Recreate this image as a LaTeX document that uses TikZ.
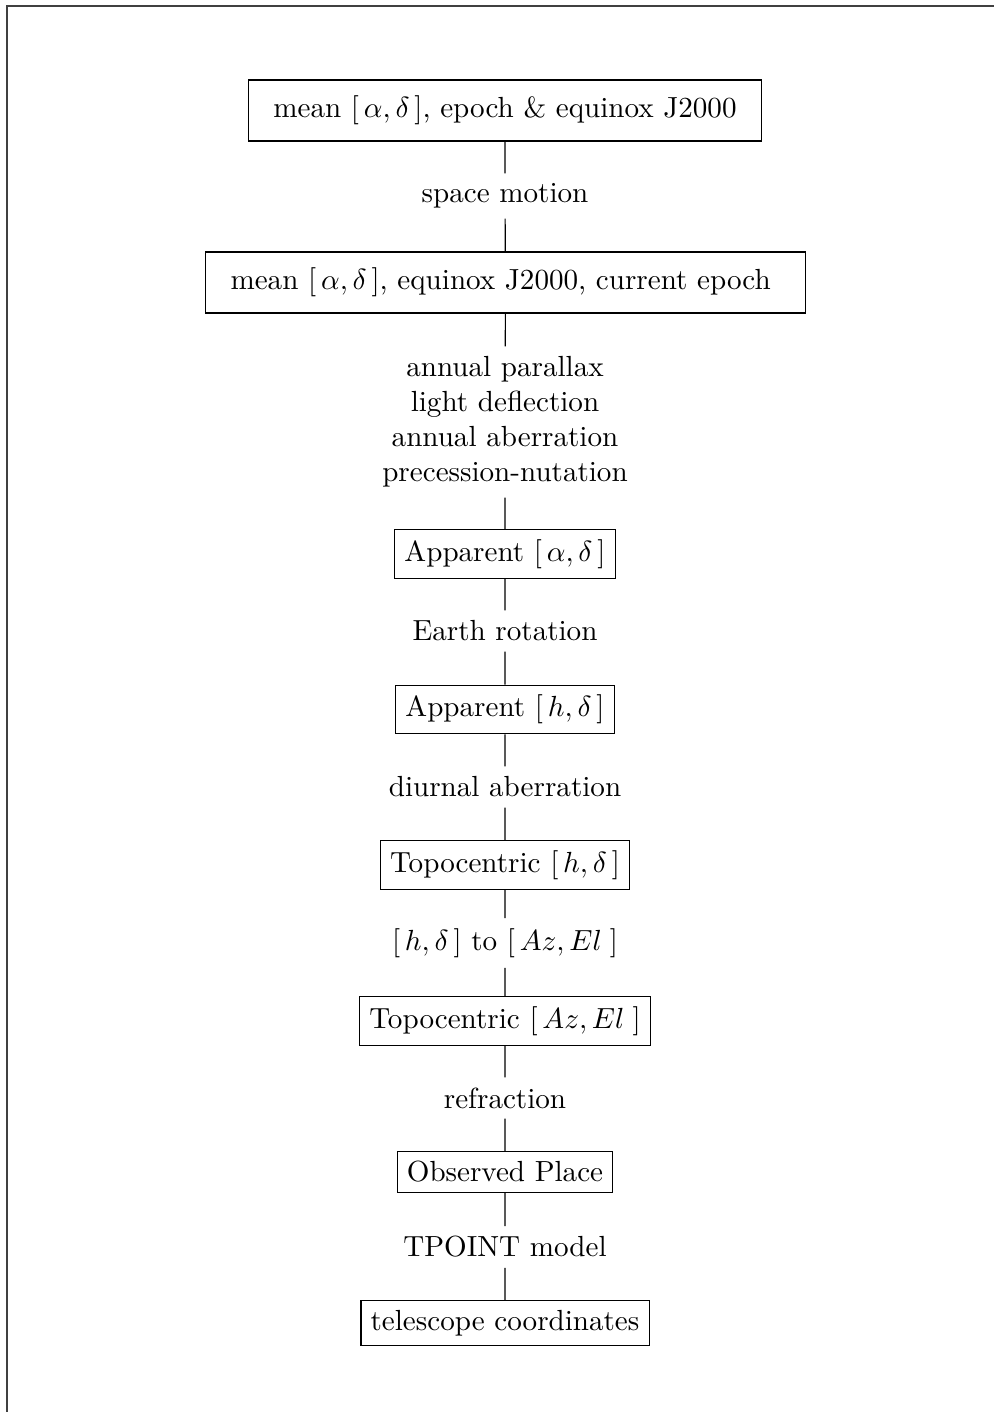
\documentclass[tikz,border=0pt]{standalone}
\begin{document}
\begin{tikzpicture}[x=0.3436pt,y=-0.3436pt,
  box/.style={draw,line width=0.4pt,inner sep=3.33pt},
  bigbox/.style={draw,line width=0.4pt,inner xsep=8.5pt,inner ysep=5.5pt},
  lbl/.style={inner sep=3.33pt,align=center},
  conn/.style={line width=0.4pt}]
\useasboundingbox (0,0) rectangle (994,1412);
\draw[line width=0.5pt,black!75] (994,6) -- (7,6) -- (7,1412);
\node[bigbox] (b1) at (505,110.5) {mean $[\,\alpha,\delta\,]$, epoch \& equinox J2000};
\node[lbl] (l1) at (505,196) {space motion};
\node[bigbox] (b2) at (505.5,282.5) {mean $[\,\alpha,\delta\,]$, equinox J2000, current epoch\kern3.33pt};
\node[lbl] (l2) at (505,422) {annual parallax\\light deflection\\annual aberration\\precession-nutation};
\node[box] (b3) at (505,554) {Apparent $[\,\alpha,\delta\,]$};
\node[lbl] (l3) at (505,631) {Earth rotation};
\node[box] (b4) at (505,709.5) {Apparent $[\,h,\delta\,]$};
\node[lbl] (l4) at (505,787) {diurnal aberration};
\node[box] (b5) at (505,865) {Topocentric $[\,h,\delta\,]$};
\node[lbl] (l5) at (505,943) {$[\,h,\delta\,]$ to $[\,Az,El\;]$};
\node[box] (b6) at (505,1021) {Topocentric $[\,Az,El\;]$};
\node[lbl] (l6) at (505,1098) {refraction};
\node[box] (b7) at (505,1172) {Observed Place};
\node[lbl] (l7) at (505,1247) {TPOINT model};
\node[box] (b8) at (505,1323) {telescope coordinates};
\draw[conn] (b1) -- (l1) -- (b2) -- (l2) -- (b3) -- (l3) -- (b4) -- (l4) -- (b5) -- (l5) -- (b6) -- (l6) -- (b7) -- (l7) -- (b8);
\end{tikzpicture}
\end{document}
